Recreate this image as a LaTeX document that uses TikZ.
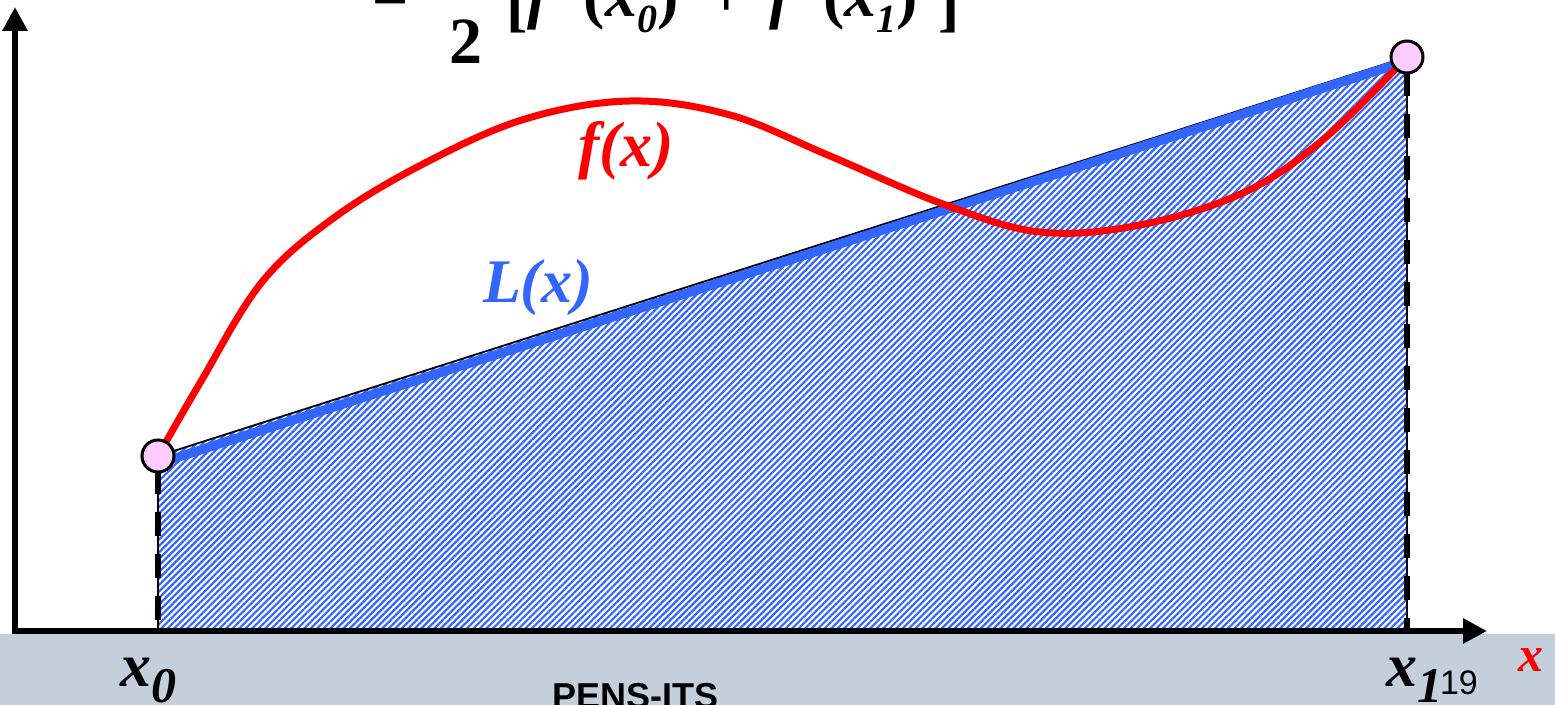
\documentclass[tikz,border=0pt]{standalone}
\usepackage{fontspec}
\setmainfont{Liberation Serif}
\newfontfamily\arialf{Liberation Sans}
\usetikzlibrary{arrows.meta,patterns.meta}
\definecolor{lblue}{HTML}{3366FF}
\definecolor{fred}{HTML}{FF0000}
\definecolor{stripgray}{HTML}{C3CFDB}
\definecolor{dotpink}{HTML}{FFCCFF}
\newcommand{\myfs}[1]{\fontsize{#1}{#1}\selectfont}
\begin{document}
\begin{tikzpicture}[x=0.5pt,y=-0.5pt,
  lbl/.style={inner sep=0pt, outer sep=0pt, anchor=base west},
  axisline/.style={line width=3.2pt, -{Triangle[length=12pt,width=12pt]}},
  endpt/.style={circle, draw=black, line width=1.5pt, fill=dotpink, minimum size=16pt, inner sep=0pt},
  thinv/.style={line width=1pt},
  thickdash/.style={line width=3pt, dash pattern=on 12pt off 9pt},
  fcurve/.style={fred, line width=3.5pt, line cap=round, line join=round},
  lline/.style={lblue, line width=4.6pt}]
\clip (0,0) rectangle (1555,705);
\fill[stripgray] (0,634) rectangle (1555,705);
% key points
\coordinate (a) at (158,456);
\coordinate (b) at (1407,57);
\coordinate (a0) at (158,631);
\coordinate (b0) at (1407,631);
\coordinate (ad) at (158,470);
\coordinate (bd) at (1407,72);
\coordinate (al) at (160,463);
\coordinate (bl) at (1404,62);
% hatched area
\fill[pattern={Lines[angle=45,distance=2.3pt,line width=1.1pt]}, pattern color=lblue] (a0) -- (a) -- (b) -- (b0) -- cycle;
% dashed verticals
\draw[thinv] (a) -- (a0);
\draw[thinv] (b) -- (b0);
\draw[thickdash] (ad) -- (a0);
\draw[thickdash] (bd) -- (b0);
% L(x) line
\draw[line width=0.9pt] (a) -- (b);
\draw[lline] (al) -- (bl);
% f(x) curve
\draw[fcurve] plot[smooth, tension=0.6] coordinates {(a) (200,383) (262,282) (335,217) (425,163) (525,119) (630,101) (730,115) (830,156) (943,204) (1040,232) (1140,225) (1245,192) (1325,138) (b)};
% axes
\coordinate (o) at (15,634);
\coordinate (ox) at (13,631);
\coordinate (ytop) at (15,7);
\coordinate (xend) at (1487,631);
\draw[axisline] (o) -- (ytop);
\draw[axisline, line width=3pt] (ox) -- (xend);
% end points
\node[endpt] (p0) at (a) {};
\node[endpt] (p1) at (b) {};
% labels
\node[lbl, text=fred, font=\bfseries\itshape\myfs{32pt}] (flab) at (578,167) {f(x)};
\node[lbl, text=lblue, font=\bfseries\itshape\myfs{31pt}] (llab) at (483,303) {L(x)};
\node[lbl, font=\bfseries\itshape\myfs{31pt}] (x0lab) at (120,687) {x\raisebox{-8pt}{\myfs{25pt}0}};
\node[lbl, font=\bfseries\itshape\myfs{31pt}] (x1lab) at (1386,687) {x\raisebox{-8pt}{\myfs{25pt}1}};
\node[lbl, font=\arialf\myfs{17pt}] (pnum) at (1440,695) {19};
\node[lbl, text=fred, font=\bfseries\itshape\myfs{25pt}] (xlab) at (1518,672) {x};
\node[lbl, font=\arialf\bfseries\myfs{18pt}] (pens) at (552,709) {PENS-ITS};
% formula (cut at top)
\node[lbl, font=\bfseries\myfs{32pt}] (eq) at (372,17) {=};
\node[inner sep=0pt, anchor=base, font=\bfseries\myfs{33pt}] (den) at (466,64) {2};
\node[lbl, font=\bfseries\myfs{32pt}] (br) at (506,17) {\raisebox{-4pt}{[}\textit{f}\hspace{15pt}(\textit{x}\raisebox{-8pt}{\myfs{20pt}\textit{0}})\hspace{15pt}+\hspace{12pt}\textit{f}\hspace{14pt}(\textit{x}\raisebox{-8pt}{\myfs{20pt}\textit{1}})\hspace{10pt}\raisebox{-4pt}{]}};
\end{tikzpicture}
\end{document}
